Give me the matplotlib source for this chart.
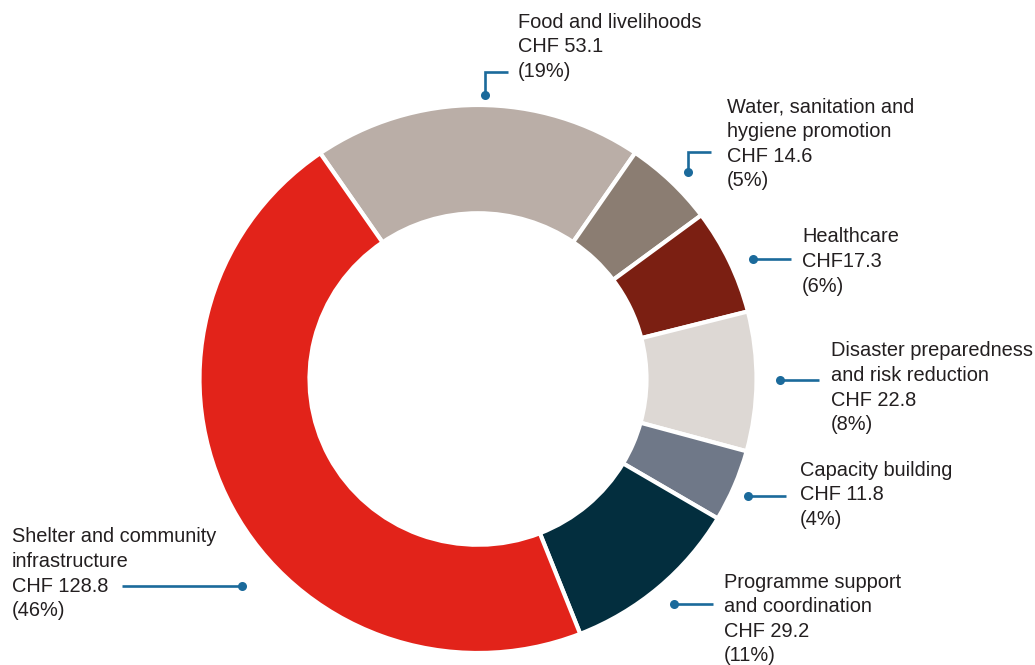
import matplotlib
matplotlib.use("Agg")
import matplotlib.pyplot as plt

W, H = 1035, 665

categories = [
    "Food and livelihoods",
    "Water, sanitation and\nhygiene promotion",
    "Healthcare",
    "Disaster preparedness\nand risk reduction",
    "Capacity building",
    "Programme support\nand coordination",
    "Shelter and community\ninfrastructure",
]
amounts = [53.1, 14.6, 17.3, 22.8, 11.8, 29.2, 128.8]
amount_labels = ["CHF 53.1", "CHF 14.6", "CHF17.3", "CHF 22.8", "CHF 11.8", "CHF 29.2", "CHF 128.8"]
percent_labels = ["(19%)", "(5%)", "(6%)", "(8%)", "(4%)", "(11%)", "(46%)"]
colors = ["#BAAEA7", "#8B7D72", "#7B1F12", "#DDD8D4", "#6F7888", "#032E3E", "#E2231A"]

# layout (pixel coordinates, y downward)
text_pos = [(518, 22), (727, 107), (802, 237), (831, 351), (800, 470), (724, 582), (12, 537)]
leaders = [
    [(485, 95), (485, 72), (508, 72)],
    [(688, 172), (688, 152), (711, 152)],
    [(753, 259), (791, 259)],
    [(780, 380), (819, 380)],
    [(748, 496), (786, 496)],
    [(674, 604), (713, 604)],
    [(242, 586), (122, 586)],
]
line_gap = 24.6
text_color = "#231F20"
leader_color = "#1B6A9B"

fig = plt.figure(figsize=(W / 100, H / 100), dpi=100)

# donut axes placed over the ring's bounding box
left, right, top, bottom = 199.5, 756.5, 105, 653
pax = fig.add_axes([left / W, (H - bottom) / H, (right - left) / W, (bottom - top) / H])
pax.pie(amounts, colors=colors, startangle=124.5, counterclock=False, radius=1.0,
        wedgeprops=dict(width=0.395, edgecolor="white", linewidth=3))
pax.set_aspect("auto")
pax.set_xlim(-1, 1)
pax.set_ylim(-1, 1)
pax.axis("off")

# overlay axes in pixel coordinates
ax = fig.add_axes([0, 0, 1, 1])
ax.set_xlim(0, W)
ax.set_ylim(H, 0)
ax.axis("off")
ax.patch.set_alpha(0)

for cat, amt, pct, (tx, ty), pts in zip(categories, amount_labels, percent_labels, text_pos, leaders):
    lines = cat.split("\n") + [amt, pct]
    for i, ln in enumerate(lines):
        ax.text(tx, ty + i * line_gap, ln, fontsize=14.4, family="Liberation Sans",
                color=text_color, ha="left", va="center")
    xs = [p[0] for p in pts]
    ys = [p[1] for p in pts]
    ax.plot(xs, ys, color=leader_color, lw=1.9, solid_joinstyle="miter", solid_capstyle="butt")
    ax.plot(xs[0], ys[0], "o", color=leader_color, ms=6.5, mec="none")

fig.savefig("out.png", dpi=100)
